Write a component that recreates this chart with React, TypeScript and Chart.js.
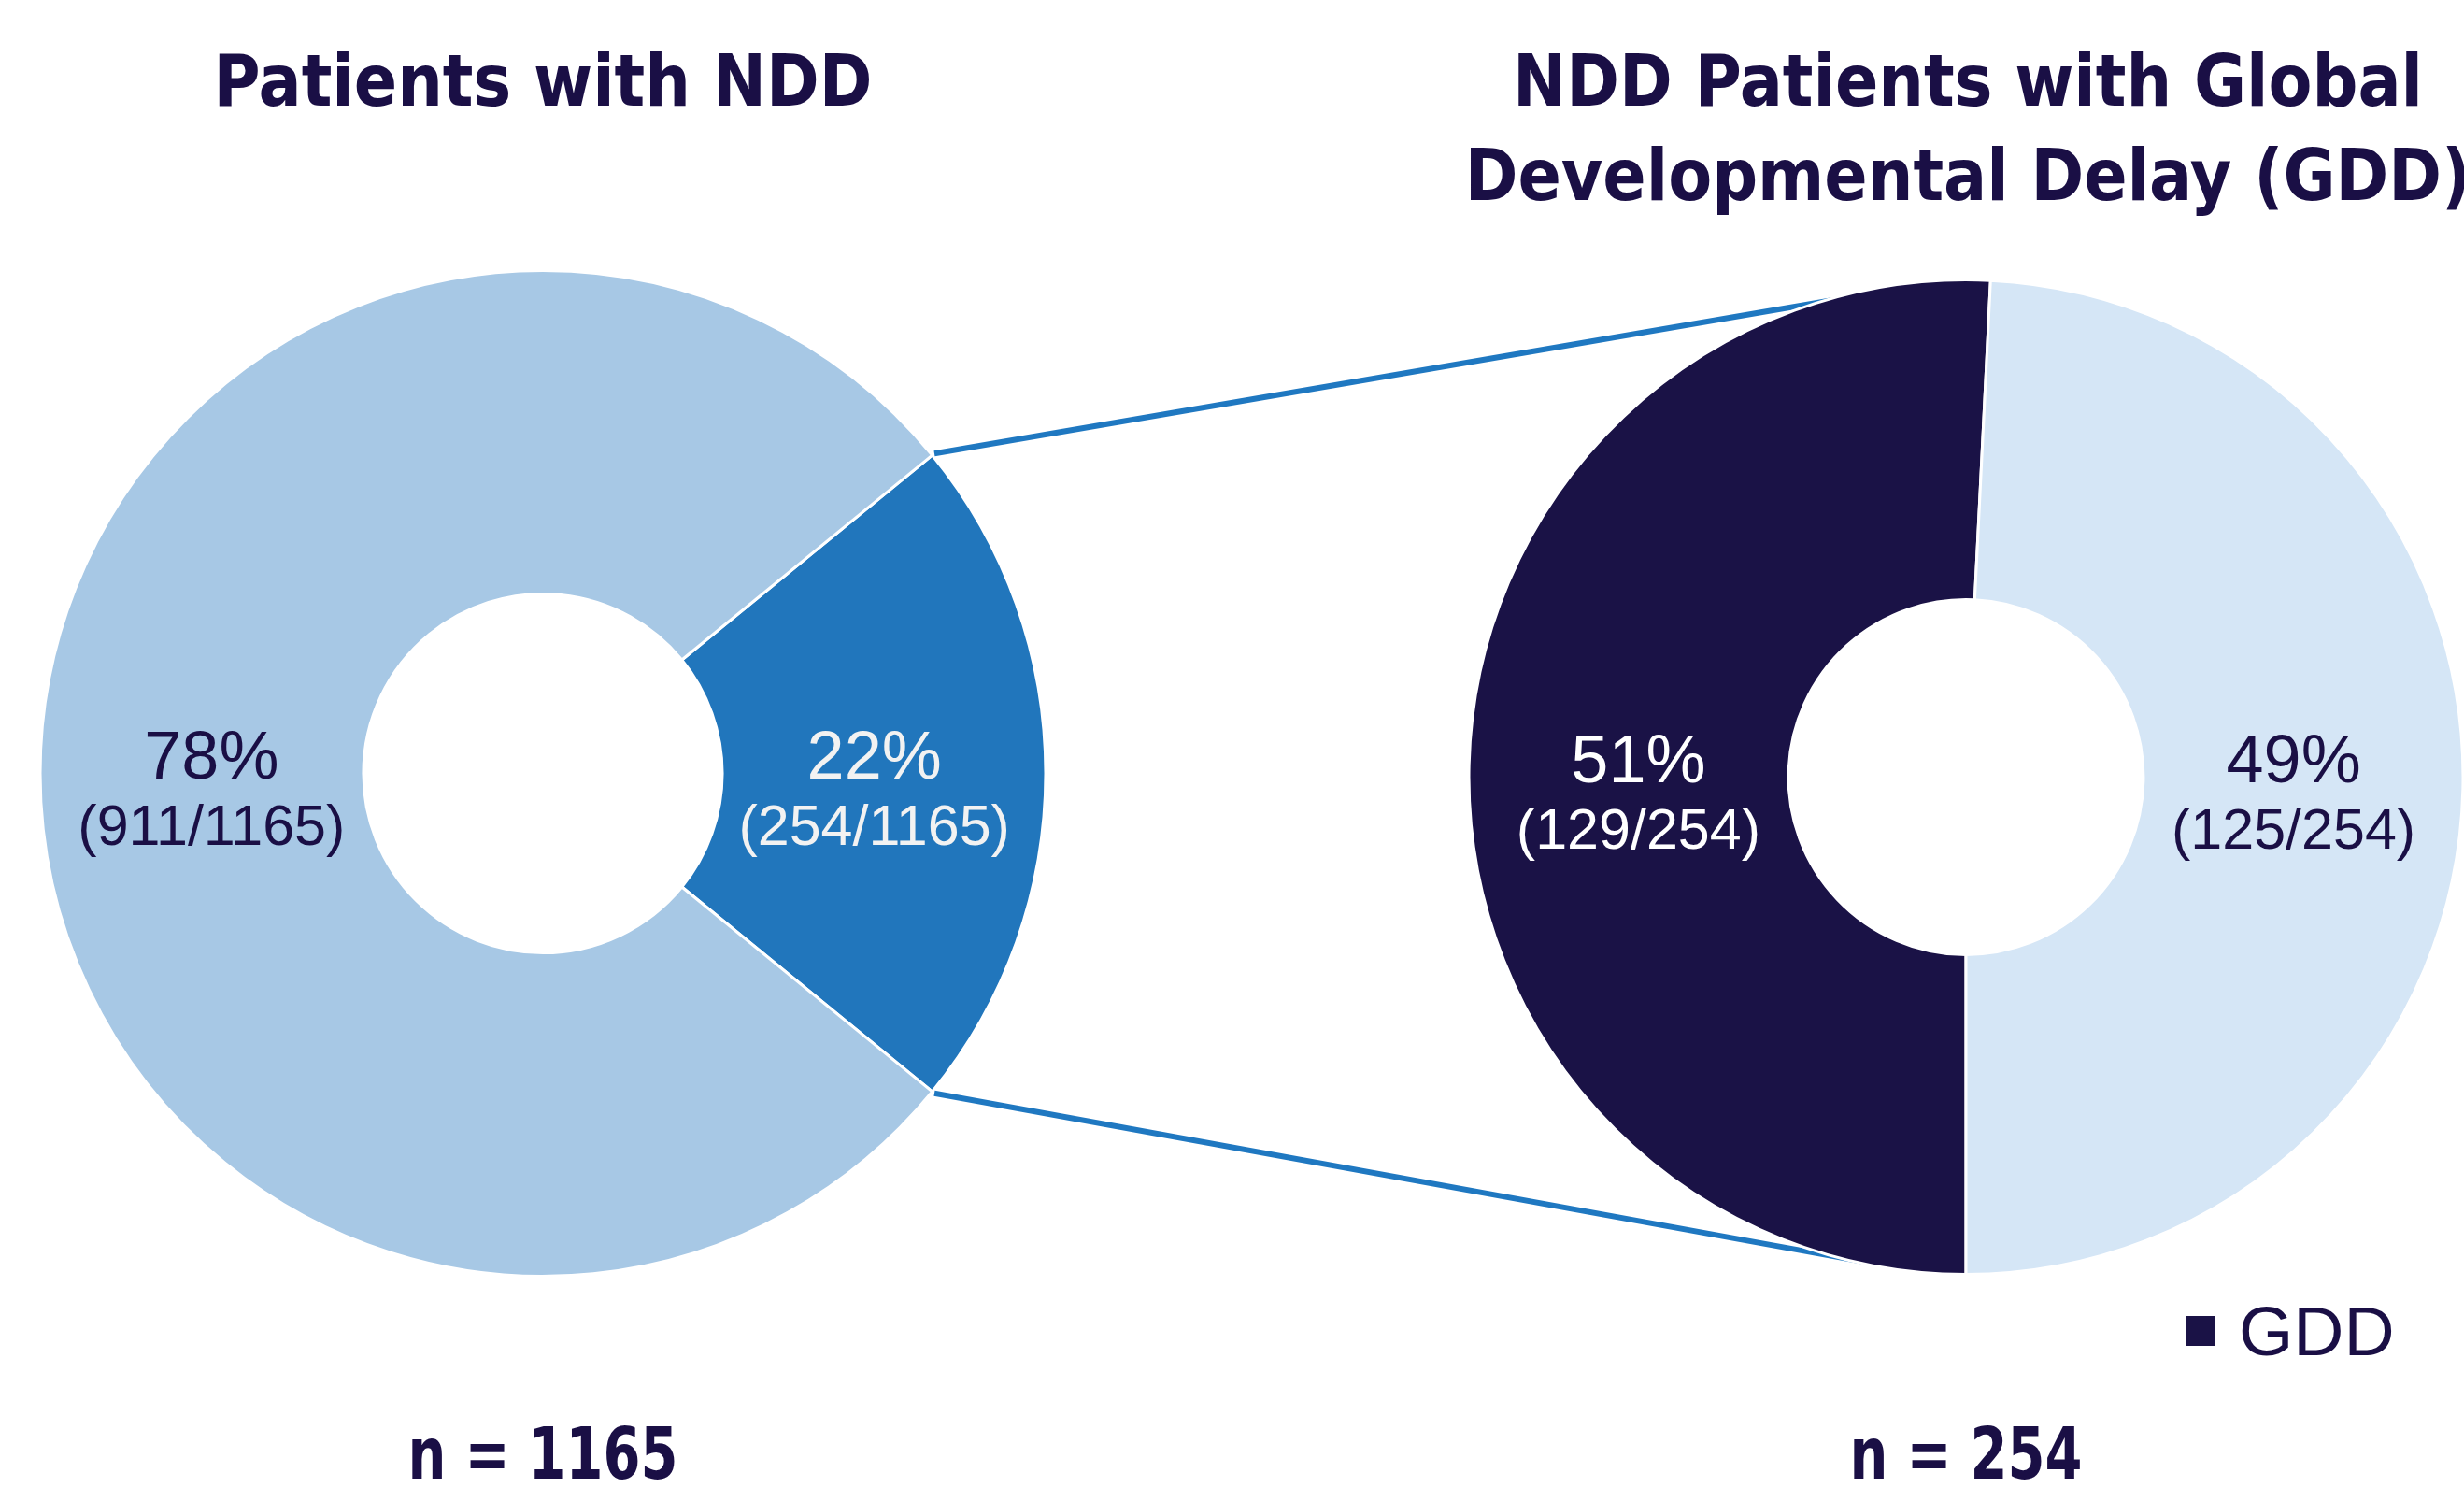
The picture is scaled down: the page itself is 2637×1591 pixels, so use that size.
import React, { useEffect, useRef } from "react";
import { Chart, registerables } from "chart.js";

Chart.register(...registerables);

// ---------- data ----------
const leftLabels = ["NDD with GDD", "NDD without GDD"];
const leftValues = [254, 911];
const rightLabels = ["GDD", "Other"];
const rightValues = [129, 125];
const leftTitle = ["Patients with NDD"];
const rightTitle = ["NDD Patients with Global", "Developmental Delay (GDD)"];
const legendLabel = "GDD";

// ---------- style ----------
const PAGE_W = 2637;
const PAGE_H = 1591;
const NAVY_TEXT = "#1a0f45";
const leftColors = ["#2176bc", "#a7c8e5"];
const rightColors = ["#1a1246", "#d5e6f6"];
const leftTextColors = ["#f2f2f2", NAVY_TEXT];
const rightTextColors = ["#ffffff", NAVY_TEXT];
const LINE_COLOR = "#1f78c1";

const LEFT_CX = 581;
const LEFT_CY = 827.5;
const LEFT_R = 538;
const RIGHT_CX = 2104;
const RIGHT_CY = 831.5;
const RIGHT_R = 532;
const CUTOUT = "35.7%";

// connector end angles on right donut, degrees clockwise from 12 o'clock
const CONNECT_TOP_DEG = 344.3;
const CONNECT_BOTTOM_DEG = 192;

const sum = (a: number[]) => a.reduce((s, v) => s + v, 0);

function sliceLabelPlugin(colors: string[]) {
  return {
    id: "sliceLabels",
    afterDatasetsDraw(chart: any) {
      const meta = chart.getDatasetMeta(0);
      const data = chart.data.datasets[0].data as number[];
      const total = sum(data);
      const ctx = chart.ctx as CanvasRenderingContext2D;
      meta.data.forEach((el: any, i: number) => {
        const p = el.getProps(["x", "y", "startAngle", "endAngle", "innerRadius", "outerRadius"], true);
        const mid = (p.startAngle + p.endAngle) / 2;
        const r = p.innerRadius + (p.outerRadius - p.innerRadius) * 0.47;
        const lx = p.x + Math.cos(mid) * r;
        ctx.save();
        ctx.fillStyle = colors[i];
        ctx.textAlign = "center";
        ctx.textBaseline = "alphabetic";
        ctx.font = '72px "Liberation Sans", Arial, sans-serif';
        ctx.fillText(`${Math.round((data[i] / total) * 100)}%`, lx, p.y + 5);
        ctx.font = '61px "Liberation Sans", Arial, sans-serif';
        ctx.fillText(`(${data[i]}/${total})`, lx, p.y + 76);
        ctx.restore();
      });
    },
  };
}

function paddingFor(cx: number, cy: number, r: number) {
  return {
    left: cx - r,
    right: PAGE_W - (cx + r),
    top: cy - r,
    bottom: PAGE_H - (cy + r),
  };
}

export default function App() {
  const leftRef = useRef<HTMLCanvasElement>(null);
  const rightRef = useRef<HTMLCanvasElement>(null);

  useEffect(() => {
    if (!leftRef.current || !rightRef.current) return;
    const leftShare = leftValues[0] / sum(leftValues);
    const left = new Chart(leftRef.current, {
      type: "doughnut",
      data: {
        labels: leftLabels,
        datasets: [
          {
            data: leftValues,
            backgroundColor: leftColors,
            borderColor: "#ffffff",
            borderWidth: 3,
          },
        ],
      },
      options: {
        responsive: false,
        animation: false,
        devicePixelRatio: 1,
        rotation: 90 - 180 * leftShare,
        radius: LEFT_R,
        cutout: CUTOUT,
        layout: { padding: paddingFor(LEFT_CX, LEFT_CY, LEFT_R) },
        plugins: { legend: { display: false }, tooltip: { enabled: false } },
      } as any,
      plugins: [sliceLabelPlugin(leftTextColors)],
    });

    const connectorPlugin = {
      id: "connectors",
      beforeDatasetsDraw(chart: any) {
        const la: any = left.getDatasetMeta(0).data[0];
        const ra: any = chart.getDatasetMeta(0).data[0];
        if (!la || !ra) return;
        const lp = la.getProps(["x", "y", "startAngle", "endAngle", "outerRadius"], true);
        const rp = ra.getProps(["x", "y", "outerRadius"], true);
        const toRad = (d: number) => ((d - 90) * Math.PI) / 180;
        const pts = [
          [lp.startAngle, toRad(CONNECT_TOP_DEG)],
          [lp.endAngle, toRad(CONNECT_BOTTOM_DEG)],
        ];
        const ctx = chart.ctx as CanvasRenderingContext2D;
        ctx.save();
        ctx.strokeStyle = LINE_COLOR;
        ctx.lineWidth = 6;
        pts.forEach(([a1, a2]) => {
          ctx.beginPath();
          ctx.moveTo(lp.x + Math.cos(a1) * (lp.outerRadius + 3), lp.y + Math.sin(a1) * (lp.outerRadius + 3));
          ctx.lineTo(rp.x + Math.cos(a2) * (rp.outerRadius - 2), rp.y + Math.sin(a2) * (rp.outerRadius - 2));
          ctx.stroke();
        });
        ctx.restore();
      },
    };

    const right = new Chart(rightRef.current, {
      type: "doughnut",
      data: {
        labels: rightLabels,
        datasets: [
          {
            data: rightValues,
            backgroundColor: rightColors,
            borderColor: "#ffffff",
            borderWidth: 3,
          },
        ],
      },
      options: {
        responsive: false,
        animation: false,
        devicePixelRatio: 1,
        rotation: 180,
        radius: RIGHT_R,
        cutout: CUTOUT,
        layout: { padding: paddingFor(RIGHT_CX, RIGHT_CY, RIGHT_R) },
        plugins: { legend: { display: false }, tooltip: { enabled: false } },
      } as any,
      plugins: [connectorPlugin, sliceLabelPlugin(rightTextColors)],
    });

    return () => {
      right.destroy();
      left.destroy();
    };
  }, []);

  const titleFont: React.CSSProperties = {
    position: "absolute",
    fontFamily: '"DejaVu Sans Condensed", "DejaVu Sans", sans-serif',
    fontStretch: "condensed",
    fontWeight: "bold",
    fontSize: 76,
    lineHeight: "101px",
    color: NAVY_TEXT,
    textAlign: "center",
    whiteSpace: "nowrap",
    width: 1600,
  };

  const nFont: React.CSSProperties = {
    ...titleFont,
    transform: "scaleX(0.84)",
    transformOrigin: "50% 50%",
  };

  return (
    <div
      style={{
        position: "fixed",
        left: 0,
        top: 0,
        width: PAGE_W,
        height: PAGE_H,
        overflow: "hidden",
        background: "#ffffff",
      }}
    >
      <canvas
        ref={leftRef}
        width={PAGE_W}
        height={PAGE_H}
        style={{ position: "absolute", left: 0, top: 0, width: PAGE_W, height: PAGE_H }}
      />
      <canvas
        ref={rightRef}
        width={PAGE_W}
        height={PAGE_H}
        style={{ position: "absolute", left: 0, top: 0, width: PAGE_W, height: PAGE_H }}
      />
      <div style={{ ...titleFont, left: LEFT_CX - 800, top: 36 }}>
        {leftTitle.map((t) => (
          <div key={t}>{t}</div>
        ))}
      </div>
      <div style={{ ...titleFont, left: RIGHT_CX + 2 - 800, top: 36 }}>
        {rightTitle.map((t) => (
          <div key={t}>{t}</div>
        ))}
      </div>
      <div style={{ ...nFont, left: LEFT_CX - 800, top: 1505 }}>{`n = ${sum(leftValues)}`}</div>
      <div style={{ ...nFont, left: RIGHT_CX - 800, top: 1505 }}>{`n = ${sum(rightValues)}`}</div>
      <div
        style={{
          position: "absolute",
          left: 2339,
          top: 1384,
          height: 80,
          display: "flex",
          alignItems: "center",
          fontFamily: '"Liberation Sans", Arial, sans-serif',
          fontSize: 75,
          color: NAVY_TEXT,
          whiteSpace: "nowrap",
        }}
      >
        <span
          style={{
            display: "inline-block",
            width: 32,
            height: 32,
            background: rightColors[0],
            marginRight: 25,
          }}
        />
        <span>{legendLabel}</span>
      </div>
    </div>
  );
}
